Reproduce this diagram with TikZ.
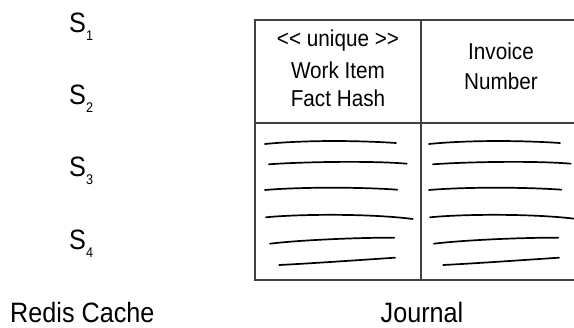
\documentclass[tikz,border=0pt]{standalone}
\usepackage{fontspec}
\setmainfont[FakeStretch=0.9]{Liberation Sans}
\begin{document}
\begin{tikzpicture}[x=1pt,y=-1pt,
  lbl/.style={inner sep=0pt,anchor=base west,font=\fontsize{28}{28}\selectfont},
  svar/.style={inner sep=0pt,anchor=base west,font=\fontsize{28}{28}\selectfont},
  hdr/.style={inner sep=0pt,anchor=base,font=\fontsize{23}{23}\selectfont},
  frame/.style={draw=black!75,line width=1.7pt},
  scrib/.style={draw=black,line width=1.7pt,line cap=round}]
\useasboundingbox (0,0) rectangle (574,328);
\clip (0,0) rectangle (574,328);
% cache slots
\node[svar] (s1) at (69,33) {S\raisebox{-8pt}{\fontsize{14}{14}\selectfont 1}};
\node[svar] (s2) at (69,105) {S\raisebox{-8pt}{\fontsize{14}{14}\selectfont 2}};
\node[svar] (s3) at (69,177) {S\raisebox{-8pt}{\fontsize{14}{14}\selectfont 3}};
\node[svar] (s4) at (69,250) {S\raisebox{-8pt}{\fontsize{14}{14}\selectfont 4}};
\node[lbl] (redis) at (10,322.7) {Redis Cache};
% journal table
\draw[frame] (590,20) -- (255,20) -- (255,280) -- (590,280);
\draw[frame] (255,123) -- (590,123);
\draw[frame] (421,20) -- (421,280);
\node[hdr] (h1) at (338,46.7) {<\kern0pt< unique >\kern0pt>};
\node[hdr] (h2) at (338,79) {Work Item};
\node[hdr] (h3) at (338,107) {Fact Hash};
\node[hdr] (h4) at (501,60) {Invoice};
\node[hdr] (h5) at (501,89.3) {Number};
% scribbled rows
\foreach \dx in {0,164} {
  \begin{scope}[xshift=\dx]
  \draw[scrib] (265,144) .. controls (300,140.5) and (350,140) .. (396,143);
  \draw[scrib] (269,164.3) .. controls (300,162) and (370,160.5) .. (406.7,163.7);
  \draw[scrib] (265,190) .. controls (300,187) and (360,187) .. (397.3,189.7);
  \draw[scrib] (266,217.3) .. controls (300,214) and (370,213.5) .. (412.7,219);
  \draw[scrib] (270,243.7) .. controls (300,240) and (360,237.5) .. (394.3,237.7);
  \draw[scrib] (279.3,265) .. controls (310,263.5) and (360,260) .. (395,257.7);
  \end{scope}
}
\node[lbl,anchor=base] (journal) at (422,323) {Journal};
\end{tikzpicture}
\end{document}
